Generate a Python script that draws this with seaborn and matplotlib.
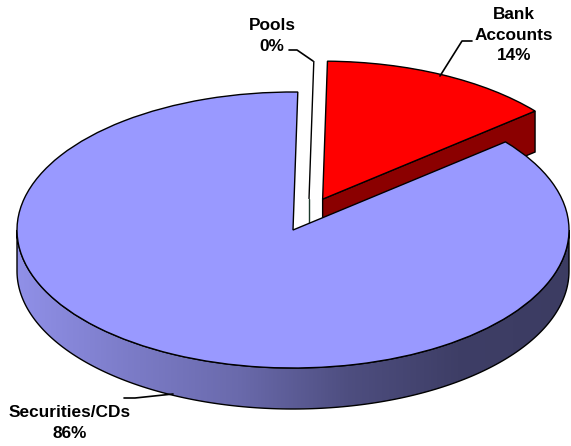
import numpy as np
import matplotlib
matplotlib.use("Agg")
import matplotlib.pyplot as plt
from matplotlib.patches import Polygon
from matplotlib.transforms import Affine2D
import seaborn as sns

# shares, the labels show them rounded
categories = ["Securities/CDs", "Bank\nAccounts", "Pools"]
shares = [86.3, 13.7, 0.0]
percent_labels = ["86%", "14%", "0%"]
top_colors = ["#9999FF", "#FF0000", "#FFFFFF"]
rim_shades = ["#9090E8", "#7C7CC8", "#6A6AAC", "#4E4E80", "#3E3E66", "#3C3C62"]

WIDTH, HEIGHT = 571, 446
CX, CY, RX, RY = 293, 230, 276, 138
DEPTH = 41 / RY

sns.set_theme(style="white")
plt.rcParams["font.family"] = ["Liberation Sans", "DejaVu Sans"]

fig = plt.figure(figsize=(WIDTH / 100, HEIGHT / 100), dpi=100)
ax = fig.add_axes([0, 0, 1, 1])

wedges, _ = ax.pie(shares, colors=top_colors, startangle=89, explode=[0, 0.248, 0],
                   wedgeprops=dict(edgecolor="black", linewidth=1.0))
# the empty slice sits just beside the red one
wedges[2].set_center((0.058, 0.225))

blue, red, pools = wedges
blue.set_zorder(5)
red.set_zorder(3)
pools.set_zorder(3)

# cut face of the red slice, partly hidden by the blue one
rx0, ry0 = red.center
end = np.deg2rad(red.theta1)
ex, ey = rx0 + np.cos(end), ry0 + np.sin(end)
ax.add_patch(Polygon([(rx0, ry0), (ex, ey), (ex, ey - DEPTH), (rx0, ry0 - DEPTH)],
                     closed=True, facecolor="#8B0000", edgecolor="black", linewidth=1.0, zorder=2))

# back edge of the empty slice
px0, py0 = pools.center
ax.plot([px0, px0], [py0, py0 - DEPTH], color="#1c3a2c", linewidth=1.0, zorder=2)

# rim of the blue slice with its left to right shading
theta = np.linspace(np.pi, 2 * np.pi, 200)
upper = np.column_stack([np.cos(theta), np.sin(theta)])
lower = (upper - [0, DEPTH])[::-1]
rim = Polygon(np.vstack([upper, lower]), closed=True, facecolor="none",
              edgecolor="black", linewidth=1.0, zorder=4)
ax.add_patch(rim)
cmap = sns.blend_palette(rim_shades, n_colors=256, as_cmap=True)
shade = ax.imshow(np.linspace(0, 1, 256)[None, :], cmap=cmap, aspect="auto",
                  extent=(-1, 1, -1 - DEPTH, 0), zorder=3.5)
shade.set_clip_path(rim)

# stretch the pie into a flat ellipse that fills the figure
ax.set_aspect("auto")
ax.set_xlim(-CX / RX, (WIDTH - CX) / RX)
ax.set_ylim((CY - HEIGHT) / RY, CY / RY)
ax.axis("off")

# labels and leader lines are placed in picture pixels
pixels = Affine2D().scale(1, -1).translate(0, HEIGHT)
label_style = dict(transform=pixels, ha="center", va="center", fontsize=12.4, fontweight="bold",
                   color="black", linespacing=1.42, zorder=10)
ax.text(272, 36, f"{categories[2]}\n{percent_labels[2]}", **label_style)
ax.text(514, 35, f"{categories[1]}\n{percent_labels[1]}", **label_style)
ax.text(70, 423, f"{categories[0]}\n{percent_labels[0]}", **label_style)

leaders = [
    ([289, 297, 313], [50, 50, 61]),
    ([472, 462, 440], [41, 41, 76]),
    ([124, 135, 173], [398, 398, 394]),
]
for xs, ys in leaders:
    ax.plot(xs, ys, color="black", linewidth=1.2, transform=pixels, zorder=10)

fig.savefig("out.png", dpi=100, facecolor="white")
